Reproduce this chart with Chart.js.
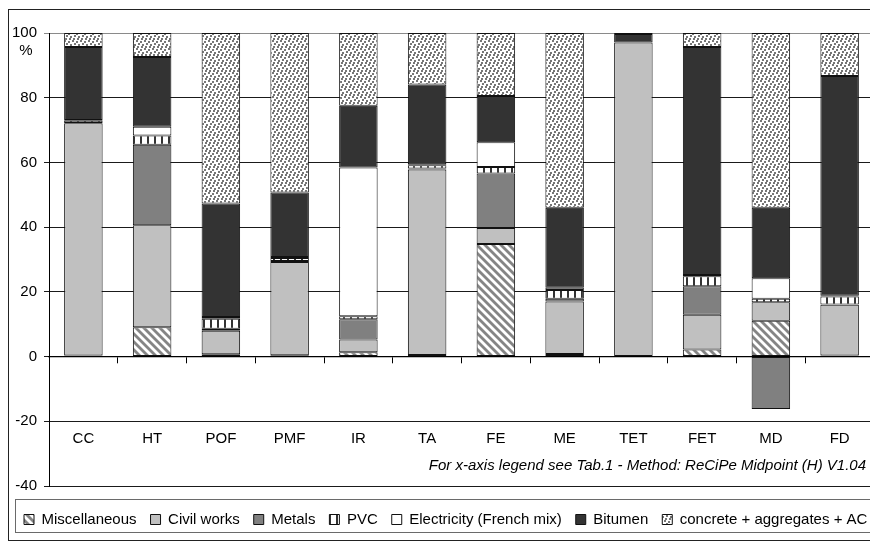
<!DOCTYPE html>
<html>
<head>
<meta charset="utf-8">
<script src="https://cdn.jsdelivr.net/npm/chart.js@4.4.0/dist/chart.umd.min.js"></script>
<style>
    html, body { margin: 0; padding: 0; background: #fff; overflow: hidden; }
    #wrap { width: 875px; height: 542px; }
</style>
</head>
<body>
<div id="wrap"><canvas id="impact-chart" width="875" height="542"></canvas></div>
<script>
const categories = ["CC", "HT", "POF", "PMF", "IR", "TA", "FE", "ME", "TET", "FET", "MD", "FD"];

// contribution of each item, % of the total impact
const misc     = [0.3,  9.1,  0.7,  0.4,  1.3,  0.5, 34.8,  0.8,  0.0,  2.2,  11.1,  0.3];
const civil    = [71.8, 31.5, 7.3,  28.8, 4.0,  57.3, 4.9, 16.2, 97.1, 10.7,  5.7, 15.7];
const metals   = [0.1, 24.9,  0.6,  0.3,  6.2,  0.3, 16.9,  0.9,  0.0,  8.8, -16.2,  0.1];
const pvc      = [0.7,  2.8,  3.1,  1.0,  1.0,  1.0,  2.0,  2.7,  0.0,  3.1,  1.1,  2.5];
const elec     = [0.2,  2.7,  0.5,  0.3, 45.9,  0.3,  7.6,  0.7,  0.0,  0.4,  6.3,  0.2];
const bitumen  = [22.6, 21.6, 35.1, 19.9, 19.1, 24.7, 14.3, 24.7, 2.6, 70.5, 21.8, 67.9];
const concrete = [4.3,  7.4, 52.7, 49.3, 22.5, 15.9, 19.5, 54.0,  0.3,  4.3, 54.0, 13.3];

const yTicks = [-40, -20, 0, 20, 40, 60, 80, 100];

const FONT = "'Liberation Sans', Arial, sans-serif";

function makePattern(w, h, paint)
{
    const c = document.createElement("canvas");
    c.width = w;
    c.height = h;
    const g = c.getContext("2d");
    g.fillStyle = "#ffffff";
    g.fillRect(0, 0, w, h);
    paint(g);
    return document.getElementById("impact-chart").getContext("2d").createPattern(c, "repeat");
}

// diagonal stripes
const stripes = makePattern(8, 8, g => {
    g.strokeStyle = "#858585";
    g.lineWidth = 2.8;
    [-8, 0, 8].forEach(k => {
        g.beginPath();
        g.moveTo(k - 1, -1);
        g.lineTo(k + 9, 9);
        g.stroke();
    });
});

// vertical bars
const vbars = makePattern(7, 4, g => {
    g.fillStyle = "#333333";
    g.fillRect(0, 0, 2, 4);
});

// confetti
const confetti = makePattern(8, 8, g => {
    g.fillStyle = "#777777";
    [[0, 0], [4, 1], [2, 3], [6, 4], [1, 6], [5, 6]].forEach(([x, y]) => g.fillRect(x, y, 2, 2));
});

const series = [
    { label: "Miscellaneous",            data: misc,     fill: stripes },
    { label: "Civil works",              data: civil,    fill: "#c0c0c0" },
    { label: "Metals",                   data: metals,   fill: "#808080" },
    { label: "PVC",                      data: pvc,      fill: vbars },
    { label: "Electricity (French mix)", data: elec,     fill: "#ffffff" },
    { label: "Bitumen",                  data: bitumen,  fill: "#333333" },
    { label: "concrete + aggregates + AC", data: concrete, fill: confetti }
];

const datasets = series.map(s => ({
    label: s.label,
    data: s.data,
    backgroundColor: s.fill,
    borderColor: "#111111",
    borderWidth: 1,
    borderSkipped: false,
    categoryPercentage: 1.0,
    barPercentage: 0.56
}));

const framePlugin = {
    id: "frame",
    beforeDraw(chart)
    {
        const ctx = chart.ctx;
        ctx.save();
        ctx.fillStyle = "#ffffff";
        ctx.fillRect(0, 0, chart.width, chart.height);
        ctx.restore();
    },
    afterLayout(chart)
    {
        // push the legend row down inside its box
        const lg = chart.legend;
        lg.top += 12;
        lg.bottom += 12;
        lg.left += 10;
        lg.right += 10;
    },
    afterDraw(chart)
    {
        const ctx = chart.ctx;
        ctx.save();
        ctx.lineWidth = 1;
        ctx.strokeStyle = "#222222";
        ctx.strokeRect(8.5, 9.5, 900, 531);
        ctx.strokeStyle = "#6a6a6a";
        ctx.strokeRect(15.5, 499.5, 900, 33);

        ctx.fillStyle = "#000000";
        ctx.font = "15px " + FONT;
        ctx.textAlign = "center";
        ctx.textBaseline = "middle";
        ctx.fillText("%", 26, 51);

        ctx.font = "italic 15px " + FONT;
        ctx.textAlign = "right";
        ctx.fillText("For x-axis legend see Tab.1 - Method: ReCiPe Midpoint (H) V1.04", 866, 466);
        ctx.restore();
    }
};

new Chart(document.getElementById("impact-chart"), {
    type: "bar",
    data: { labels: categories, datasets },
    options: {
        responsive: false,
        animation: false,
        events: [],
        layout: { padding: { left: 0, top: 33, right: 1, bottom: 17 } },
        plugins: {
            tooltip: { enabled: false },
            title: { display: false },
            legend: {
                position: "bottom",
                align: "start",
                labels: {
                    boxWidth: 10,
                    boxHeight: 10,
                    padding: 14,
                    color: "#000000",
                    font: { family: FONT, size: 15 }
                }
            }
        },
        scales: {
            x: {
                stacked: true,
                position: { y: 0 },
                offset: true,
                afterFit: scale => { scale.paddingLeft = 0; scale.paddingRight = 0; },
                grid: {
                    drawOnChartArea: false,
                    drawTicks: true,
                    tickLength: 6,
                    color: "#000000",
                    offset: true
                },
                border: { display: true, color: "#000000", width: 1.3 },
                ticks: {
                    color: "#000000",
                    padding: 67,
                    maxRotation: 0,
                    autoSkip: false,
                    font: { family: FONT, size: 15 }
                }
            },
            y: {
                stacked: true,
                min: yTicks[0],
                max: yTicks[yTicks.length - 1],
                afterFit: scale => { scale.width = 49; },
                afterBuildTicks: scale => { scale.ticks = yTicks.map(v => ({ value: v })); },
                grid: {
                    color: ctx => (ctx.tick && ctx.tick.value === 100) ? "#8a8a8a" : "#1a1a1a",
                    lineWidth: 1,
                    drawTicks: true,
                    tickLength: 5
                },
                border: { display: true, color: "#000000", width: 1 },
                ticks: {
                    color: "#000000",
                    padding: 7,
                    font: { family: FONT, size: 15 }
                }
            }
        }
    },
    plugins: [framePlugin]
});
</script>
</body>
</html>
